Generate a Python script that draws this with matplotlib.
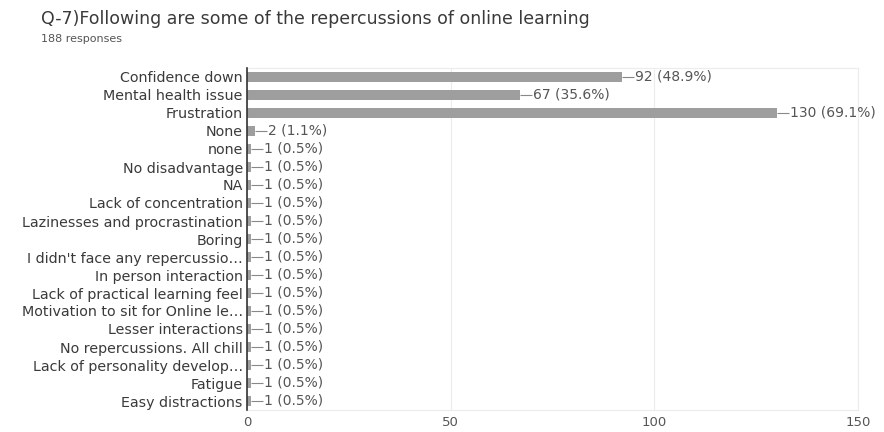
import matplotlib
matplotlib.use("Agg")
import matplotlib.pyplot as plt

categories = [
    "Confidence down", "Mental health issue", "Frustration", "None", "none",
    "No disadvantage", "NA", "Lack of concentration",
    "Lazinesses and procrastination", "Boring",
    "I didn't face any repercussio\u2026", "In person interaction",
    "Lack of practical learning feel", "Motivation to sit for Online le\u2026",
    "Lesser interactions", "No repercussions. All chill",
    "Lack of personality develop\u2026", "Fatigue", "Easy distractions",
]
counts = [92, 67, 130, 2, 1, 1, 1, 1, 1, 1, 1, 1, 1, 1, 1, 1, 1, 1, 1]
total_responses = 188
x_ticks = [0, 50, 100, 150]

plt.rcParams["font.family"] = ["DejaVu Sans"]

fig = plt.figure(figsize=(8.84, 4.32), dpi=100)
ax = fig.add_axes([247 / 884, 1 - 410 / 432, (858 - 247) / 884, (410 - 68) / 432])

n = len(categories)
ypos = list(range(n))
ax.barh(ypos, counts, height=0.6, color="#9e9e9e", zorder=2)

ax.set_xlim(0, 150)
ax.set_ylim(n - 0.5, -0.5)
ax.set_yticks(ypos)
ax.set_yticklabels(categories, fontsize=10.3, color="#3a3a3a")
ax.set_xticks(x_ticks)
ax.set_xticklabels([str(t) for t in x_ticks], fontsize=9.5, color="#555555")
ax.tick_params(axis="both", length=0)
ax.tick_params(axis="x", pad=4)
ax.tick_params(axis="y", pad=3)

# light vertical gridlines and a faint frame
ax.grid(axis="x", color="#ececec", linewidth=0.8, zorder=0)
for side in ("top", "right", "bottom"):
    ax.spines[side].set_color("#ececec")
    ax.spines[side].set_linewidth(0.8)
ax.spines["left"].set_color("#333333")
ax.spines["left"].set_linewidth(1.2)
ax.spines["left"].set_zorder(3)

# value labels with a short leader line
for y, c in zip(ypos, counts):
    pct = 100 * c / total_responses
    ax.plot([c, c + 3.0], [y, y], color="#888888", linewidth=0.8, zorder=2,
            solid_capstyle="butt")
    ax.text(c + 3.2, y, f"{c} ({pct:.1f}%)", va="center", ha="left",
            fontsize=10, color="#555555")

fig.text(41 / 884, 1 - 19 / 432,
         "Q-7)Following are some of the repercussions of online learning",
         fontsize=12.5, color="#3a3a3a", va="center", ha="left")
fig.text(41 / 884, 1 - 39 / 432, "188 responses", fontsize=8,
         color="#555555", va="center", ha="left")

fig.savefig("out.png", dpi=100)
